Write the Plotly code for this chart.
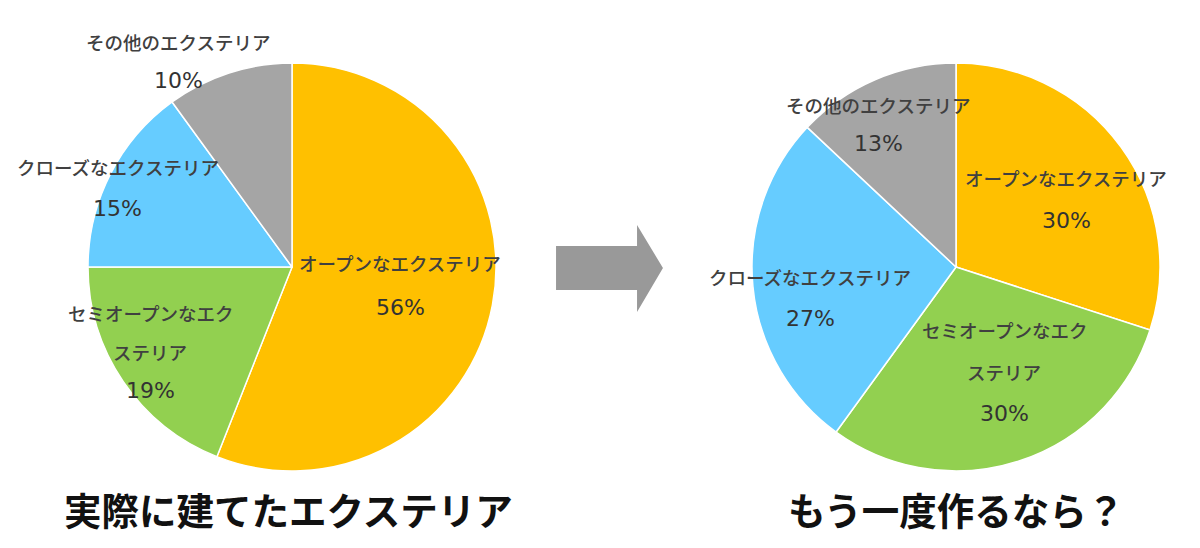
import plotly.graph_objects as go

W, H = 1200, 548
OFF = 8  # page body margin in the browser

categories = ['オープンなエクステリア', 'セミオープンなエクステリア', 'クローズなエクステリア', 'その他のエクステリア']
values_built = [56, 19, 15, 10]
values_again = [30, 30, 27, 13]
colors = ['#FFC000', '#92D050', '#66CCFF', '#A5A5A5']

titles = ['実際に建てたエクステリア', 'もう一度作るなら？']

# label lines per slice (name is wrapped like the original)
name_lines = {
    'オープンなエクステリア': ['オープンなエクステリア'],
    'セミオープンなエクステリア': ['セミオープンなエク', 'ステリア'],
    'クローズなエクステリア': ['クローズなエクステリア'],
    'その他のエクステリア': ['その他のエクステリア'],
}

# pixel positions of the label lines (x centre, y of each line)
label_pos_built = [(400, [263, 307]), (150, [313, 352, 390]), (118, [167, 208]), (178, [42, 80])]
label_pos_again = [(1066, [178, 220]), (1004, [330, 372, 413]), (810, [277, 318]), (878, [105, 143])]


def px(x):
    return (x - OFF) / W


def py(y):
    return 1 - (y - OFF) / H


fig = go.Figure()

for values, dom in [(values_built, [88, 496]), (values_again, [752, 1160])]:
    fig.add_trace(go.Pie(
        labels=categories, values=values, sort=False, direction='clockwise', rotation=0,
        marker=dict(colors=colors, line=dict(color='white', width=1.5)),
        textinfo='none', hoverinfo='label+percent', showlegend=False,
        domain=dict(x=[px(dom[0]), px(dom[1])], y=[py(471), py(63)]),
    ))

annotations = []
for values, positions in [(values_built, label_pos_built), (values_again, label_pos_again)]:
    total = sum(values)
    for cat, v, (x, ys) in zip(categories, values, positions):
        lines = name_lines[cat] + [f'{round(100 * v / total)}%']
        for i, (text, y) in enumerate(zip(lines, ys)):
            is_pct = i == len(lines) - 1
            font = dict(family='DejaVu Sans', size=22, color='#333333') if is_pct else \
                dict(family='Noto Sans CJK JP', size=18.5, color='#404040', weight=500)
            annotations.append(dict(
                x=px(x), y=py(y), xref='paper', yref='paper', text=text, showarrow=False,
                xanchor='center', yanchor='middle', font=font,
            ))

for title, x in zip(titles, [288, 956]):
    annotations.append(dict(
        x=px(x), y=py(508), xref='paper', yref='paper', text=f'<b>{title}</b>', showarrow=False,
        xanchor='center', yanchor='middle',
        font=dict(family='Noto Sans CJK JP', size=37.5, color='#111111'),
    ))

# block arrow between the two pies
arrow = [(556, 246), (637, 246), (637, 225), (663, 268), (637, 312), (637, 290), (556, 290)]
path = 'M ' + ' L '.join(f'{px(x):.4f},{py(y):.4f}' for x, y in arrow) + ' Z'

fig.update_layout(
    width=W, height=H,
    margin=dict(l=0, r=0, t=0, b=0),
    paper_bgcolor='white', plot_bgcolor='white',
    annotations=annotations,
    shapes=[dict(type='path', path=path, xref='paper', yref='paper',
                 fillcolor='#999999', line=dict(width=0))],
)

fig.write_html('out.html')
